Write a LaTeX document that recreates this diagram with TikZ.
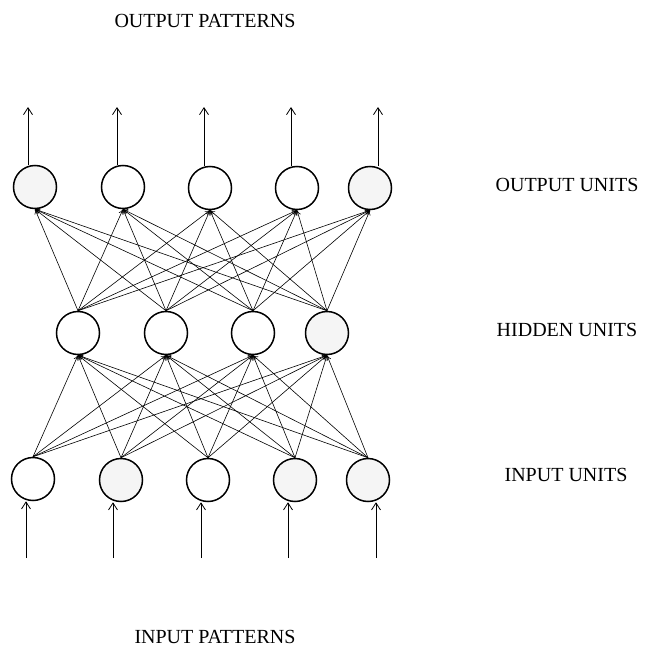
\documentclass[tikz,border=0pt]{standalone}
\usepackage{fontspec}
\setmainfont{Liberation Serif}
\usetikzlibrary{arrows.meta}
\begin{document}
\begin{tikzpicture}[x=1pt,y=-1pt,
  unit/.style={circle,draw,line width=1.5pt,minimum size=43pt,inner sep=0pt},
  shaded/.style={fill=black!4},
  conn/.style={line width=0.6pt,-{To[length=5pt,width=5pt]}},
  ioarrow/.style={line width=0.8pt,-{Straight Barb[length=7pt,width=9pt]}},
  lbl/.style={font=\fontsize{20}{23}\selectfont,inner sep=0pt}]
\useasboundingbox (0,0) rectangle (648,661);
% output units
\node[unit,shaded] (o1) at (35,187) {};
\node[unit] (o2) at (123,187) {};
\node[unit] (o3) at (210,188) {};
\node[unit] (o4) at (297,188) {};
\node[unit,shaded] (o5) at (370,188) {};
% hidden units
\node[unit] (h1) at (78,333) {};
\node[unit] (h2) at (166,333) {};
\node[unit] (h3) at (253,333) {};
\node[unit,shaded] (h4) at (327,333) {};
% input units
\node[unit] (i1) at (33,479) {};
\node[unit,shaded] (i2) at (121,480) {};
\node[unit] (i3) at (208,480) {};
\node[unit,shaded] (i4) at (295,480) {};
\node[unit,shaded] (i5) at (368,480) {};
% free ends
\coordinate (ot1) at (28,107);
\coordinate (ot2) at (117,107);
\coordinate (ot3) at (204,107);
\coordinate (ot4) at (291,107);
\coordinate (ot5) at (378,107);
\coordinate (ib1) at (26,558);
\coordinate (ib2) at (113,558);
\coordinate (ib3) at (201,558);
\coordinate (ib4) at (288,558);
\coordinate (ib5) at (376,558);
% pattern arrows
\foreach \n in {1,...,5}{
  \draw[ioarrow] (o\n.north -| ot\n) -- (ot\n);
  \draw[ioarrow] (ib\n) -- (i\n.south -| ib\n);
}
% hidden -> output
\foreach \h in {1,...,4}{
  \foreach \o in {1,...,5}{
    \draw[conn] (h\h.north) -- (o\o.south);
  }
}
% input -> hidden
\foreach \i in {1,...,5}{
  \foreach \h in {1,...,4}{
    \draw[conn] (i\i.north) -- (h\h.south);
  }
}
% labels
\node[lbl] (tp) at (205,21) {OUTPUT PATTERNS};
\node[lbl] (tou) at (567,185) {OUTPUT UNITS};
\node[lbl] (thu) at (567,330) {HIDDEN UNITS};
\node[lbl] (tiu) at (566,475) {INPUT UNITS};
\node[lbl] (tip) at (215,637) {INPUT PATTERNS};
\end{tikzpicture}
\end{document}
